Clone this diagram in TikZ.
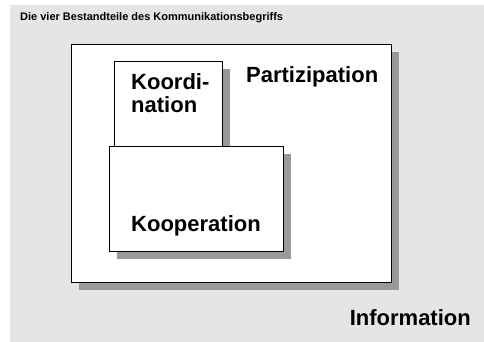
\documentclass[tikz,border=0pt]{standalone}
\usepackage{fontspec}
\setmainfont{Liberation Sans}
\usepackage{tikz}
\usetikzlibrary{shadows}

\definecolor{bggray}{HTML}{E5E5E5}
\definecolor{shadowgray}{HTML}{999999}

\begin{document}
\begin{tikzpicture}[x=1pt, y=-1pt,
    box/.style={draw, fill=white, line width=1.3pt, rectangle, inner sep=0pt,
      anchor=north west,
      drop shadow={shadow xshift=7pt, shadow yshift=-7pt, fill=shadowgray, opacity=1}},
    label/.style={inner sep=0pt, font=\bfseries\fontsize{22}{23}\selectfont}
  ]

  % Page and grey background
  \useasboundingbox (0,0) rectangle (484,342);
  \fill[bggray] (10,5) rectangle (484,342);

  % Title
  \node[inner sep=0pt, anchor=base west, font=\bfseries\fontsize{11}{13}\selectfont]
    (title) at (20,20.5) {Die vier Bestandteile des Kommunikationsbegriffs};

  % The boxes, outer one first
  \node[box, minimum width=320pt, minimum height=238pt] (partbox) at (71,44) {};
  \node[box, minimum width=108pt, minimum height=85pt] (koordbox) at (114,61) {};
  \node[box, minimum width=174pt, minimum height=105pt] (koopbox) at (109,146) {};

  % Labels
  \node[label, anchor=base west] (part) at (246,83) {Partizipation};
  \node[label, anchor=base west] (koord) at (131,90) {Koordi-};
  \node[label, anchor=base west] (koordb) at (131,113) {nation};
  \node[label, anchor=base west] (koop) at (131,231) {Kooperation};
  \node[label, anchor=base east] (info) at (471,325) {Information};

\end{tikzpicture}
\end{document}
